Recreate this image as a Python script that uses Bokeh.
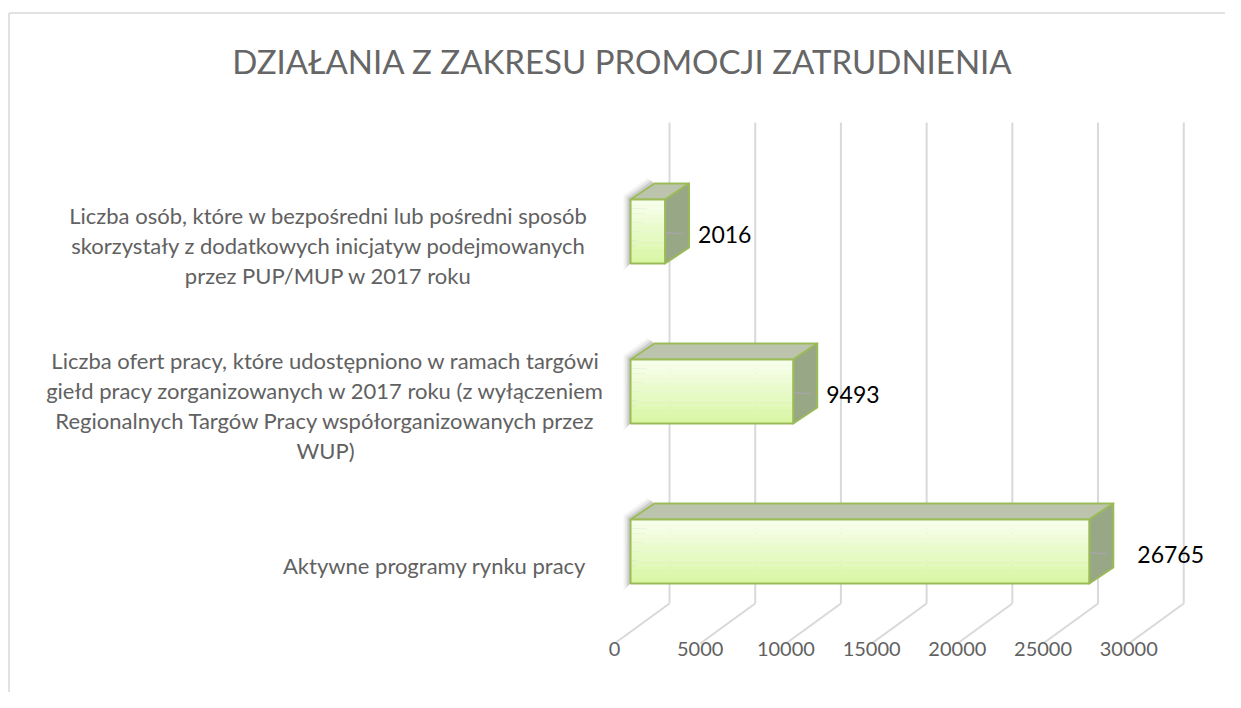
from bokeh.plotting import figure
from bokeh.models import Range1d
from bokeh.core.properties import value
from bokeh.embed import file_html
from bokeh.resources import INLINE

# ---------------- data ----------------
TITLE = "DZIAŁANIA Z ZAKRESU PROMOCJI ZATRUDNIENIA"
CATEGORY_LINES = [
    ["Aktywne programy rynku pracy"],
    ["Liczba ofert pracy, które udostępniono w ramach targówi",
     "giełd pracy zorganizowanych w 2017 roku (z wyłączeniem",
     "Regionalnych Targów Pracy współorganizowanych przez",
     "WUP)"],
    ["Liczba osób, które w bezpośredni lub pośredni sposób",
     "skorzystały z dodatkowych inicjatyw podejmowanych",
     "przez PUP/MUP w 2017 roku"],
]
VALUES = [26765, 9493, 2016]
TICKS = [0, 5000, 10000, 15000, 20000, 25000, 30000]
TICK_LABELS = ["0", "5000", "10000", "15000", "20000", "25000", "30000"]

# ---------------- layout (pixels on the page) ----------------
W, H = 1225, 692
K = 85.71 / 5000.0          # px per unit along value axis
ROW = 160.0                 # px between categories
X0_PX = 630.0               # page x of value 0 (bar front face)
Y0_PX = 551.0               # page y of first category centre
BAR_H_PX = 64.0
DEPTH_DX_PX, DEPTH_DY_PX = 24.0, 16.0
BACK_DX_PX = 39.0           # back wall offset from bar front
FRONT_DX_PX = -16.0         # floor front offset
FLOOR_BACK_Y, FLOOR_FRONT_Y, GRID_TOP_Y = 603.0, 643.0, 122.0
TICK_LABEL_Y = 648.0
CAT_CENTER_PX = [434.0, 325.0, 328.0]
CAT_DY_PX = 14.0
CAT_LINE_PX = 29.7
LABEL_GAP_PX = [24.0, 9.0, 9.0]

FONT = value("Lato")
GREY_TXT = "#616161"


def X(px):  # page px -> data x
    return (px - X0_PX) / K


def Y(py):  # page px -> data y
    return (Y0_PX - py) / ROW


def dX(px):
    return px / K


def dY(px):
    return px / ROW


p = figure(width=W, height=H, output_backend="svg", toolbar_location=None,
           x_range=Range1d(X(0), X(W)), y_range=Range1d(Y(H), Y(0)),
           min_border=0, outline_line_color=None)
p.axis.visible = False
p.grid.visible = False
p.background_fill_color = "white"
p.border_fill_color = "white"

# chart border (top + left visible)
p.segment(x0=[X(8.5), X(8.5)], y0=[Y(12.5), Y(12.5)], x1=[X(1260), X(8.5)], y1=[Y(12.5), Y(730)],
          line_color="#d9d9d9", line_width=1.5)

# title
p.text(x=[X(622)], y=[Y(60)], text=[TITLE], text_align="center", text_baseline="middle",
       text_font=FONT, text_font_size="33px", text_color="#666666")

# gridlines on back wall and floor
bx = [t + dX(BACK_DX_PX) for t in TICKS]
fx = [t + dX(FRONT_DX_PX) for t in TICKS]
p.segment(x0=bx, y0=[Y(FLOOR_BACK_Y)] * len(TICKS), x1=bx, y1=[Y(GRID_TOP_Y)] * len(TICKS),
          line_color="#d9d9d9", line_width=2)
p.segment(x0=bx, y0=[Y(FLOOR_BACK_Y)] * len(TICKS), x1=fx, y1=[Y(FLOOR_FRONT_Y)] * len(TICKS),
          line_color="#d9d9d9", line_width=2)

# tick labels
p.text(x=fx, y=[Y(TICK_LABEL_Y)] * len(TICKS), text=TICK_LABELS, text_align="center",
       text_baseline="middle", text_font=FONT, text_font_size="20px", text_color=GREY_TXT)

# bars
hh = dY(BAR_H_PX) / 2
ddx, ddy = dX(DEPTH_DX_PX), dY(DEPTH_DY_PX)
top_c = (0xf7, 0xfe, 0xec)
bot_c = (0xd8, 0xf6, 0xa4)
N = 14
for i, v in enumerate(VALUES):
    yc = i
    yt, yb = yc + hh, yc - hh
    # soft shadow on the left
    for s, a in [(7, 0.06), (5, 0.09), (3, 0.14)]:
        sx, sy = dX(s), dY(s)
        p.patch(x=[ddx, ddx - sx, -sx, -sx, 0],
                y=[yt + ddy, yt + ddy + sy * 0.8, yt + sy * 0.6, yb - sy, yb],
                fill_color="#404040", fill_alpha=a, line_color=None)
    # top face
    p.patch(x=[0, v, v + ddx, ddx], y=[yt, yt, yt + ddy, yt + ddy],
            fill_color="#bcc4ae", line_color="#9bbb59", line_width=2, line_join="round")
    # side face
    p.patch(x=[v, v + ddx, v + ddx, v], y=[yb, yb + ddy, yt + ddy, yt],
            fill_color="#98a786", line_color="#9bbb59", line_width=2, line_join="round")
    # front face gradient
    tops, bots, cols = [], [], []
    for s in range(N):
        f = s / (N - 1)
        c = tuple(int(round(top_c[j] + (bot_c[j] - top_c[j]) * f)) for j in range(3))
        tops.append(yt - 2 * hh * s / N)
        bots.append(yt - 2 * hh * (s + 1) / N - 0.001)
        cols.append("#%02x%02x%02x" % c)
    p.quad(left=[0] * N, right=[v] * N, top=tops, bottom=bots, fill_color=cols, line_color=None)
    p.quad(left=[0], right=[v], top=[yt], bottom=[yb], fill_color=None,
           line_color="#9bbb59", line_width=2)
    # leader line
    p.line(x=[v, v + ddx * 0.5, v + ddx * 0.75], y=[yc - dY(1), yc - dY(2), yc - dY(2)],
           line_color="#a6a6a6", line_width=1.5)

# data labels
p.text(x=[v + ddx + dX(g) for v, g in zip(VALUES, LABEL_GAP_PX)],
       y=[i - dY(3) for i in range(len(VALUES))],
       text=[str(v) for v in VALUES], text_align="left", text_baseline="middle",
       text_font=FONT, text_font_size="23px", text_color="#000000")

# category labels
lx, ly, lt = [], [], []
for i, lines in enumerate(CATEGORY_LINES):
    n = len(lines)
    for j, line in enumerate(lines):
        lx.append(X(CAT_CENTER_PX[i]))
        ly.append(i - dY(CAT_DY_PX) - dY(CAT_LINE_PX) * (j - (n - 1) / 2))
        lt.append(line)
p.text(x=lx, y=ly, text=lt, text_align="center", text_baseline="middle",
       text_font=FONT, text_font_size="22px", text_color=GREY_TXT)

open("out.html", "w").write(file_html(p, INLINE))
